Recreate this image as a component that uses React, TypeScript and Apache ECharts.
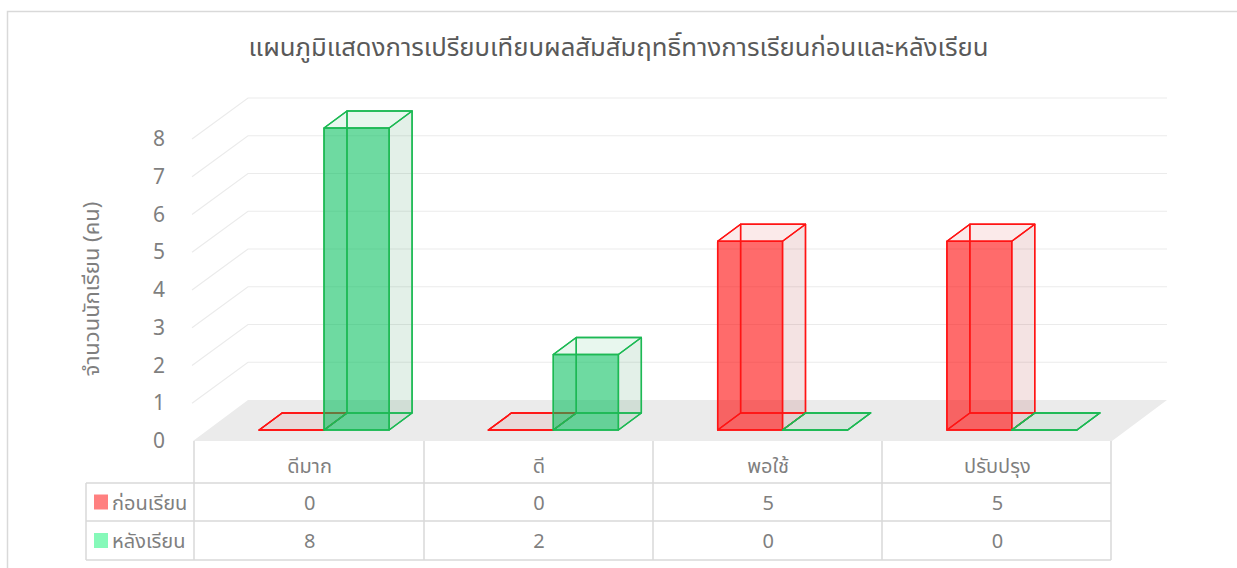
import React, { useEffect, useRef } from "react";
import * as echarts from "echarts";

const TITLE = "แผนภูมิแสดงการเปรียบเทียบผลสัมสัมฤทธิ์ทางการเรียนก่อนและหลังเรียน";
const Y_NAME = "จำนวนนักเรียน (คน)";
const categories = ["ดีมาก", "ดี", "พอใช้", "ปรับปรุง"];
const seriesNames = ["ก่อนเรียน", "หลังเรียน"];
const beforeValues = [0, 0, 5, 5];
const afterValues = [8, 2, 0, 0];
const gridTicks = [1, 2, 3, 4, 5, 6, 7, 8];

const FONT = "'Noto Sans', 'Noto Sans Thai', 'Leelawadee UI', Tahoma, sans-serif";
const W = 1237;
const H = 568;
const DX = 54;
const DY = -40;
const D1 = 0.25;
const D2 = 0.675;
const SLOT = [
  [-0.279, 0.004],
  [0.004, 0.288],
];
const STYLES = [
  { front: "rgba(255,0,0,0.58)", side: "rgba(180,60,60,0.14)", top: "rgba(220,60,60,0.11)", stroke: "#ff1414", key: "#ff8080" },
  { front: "rgba(0,190,90,0.57)", side: "rgba(40,140,80,0.13)", top: "rgba(30,180,90,0.10)", stroke: "#1db954", key: "#86f9b9" },
];

const GRID_L = 195;
const GRID_R = 1112;
const GRID_TOP = 138;
const GRID_BOTTOM = 440;
const COL_X = [194, 424, 653, 882, 1111];
const TABLE_LEFT = 86;
const ROW_Y = [441, 483, 521, 560];
const LINE_C = "#d9d9d9";
const TEXT_C = "#7f7f7f";
const TABLE_FS = 20;

function makeBarRender(slot: number) {
  const st = STYLES[slot];
  return (params: any, api: any) => {
    const cat = api.value(0);
    const val = api.value(1);
    const p0 = api.coord([cat, 0]);
    const pv = api.coord([cat, val]);
    const bw = api.size([1, 0])[0];
    const cx = p0[0];
    const y0 = p0[1];
    const yv = pv[1];
    const xl = cx + bw * SLOT[slot][0];
    const xr = cx + bw * SLOT[slot][1];
    const f = (x: number, y: number, d: number) => [x + DX * d, y + DY * d];
    const FBL = f(xl, y0, D1), FBR = f(xr, y0, D1), FTL = f(xl, yv, D1), FTR = f(xr, yv, D1);
    const BBL = f(xl, y0, D2), BBR = f(xr, y0, D2), BTL = f(xl, yv, D2), BTR = f(xr, yv, D2);
    const fill = (pts: number[][], c: string) => ({ type: "polygon", shape: { points: pts }, style: { fill: c } });
    const line = (pts: number[][]) => ({
      type: "polygon",
      shape: { points: pts },
      style: { fill: "none", stroke: st.stroke, lineWidth: 1.4, lineJoin: "round" },
    });
    return {
      type: "group",
      children: [
        fill([FBR, BBR, BTR, FTR], st.side),
        fill([FTL, FTR, BTR, BTL], st.top),
        fill([FBL, FBR, FTR, FTL], st.front),
        line([BBL, BBR, BTR, BTL]),
        line([FBL, BBL, BTL, FTL]),
        line([FBL, FBR, BBR, BBL]),
        line([FBR, BBR, BTR, FTR]),
        line([FTL, FTR, BTR, BTL]),
        line([FBL, FBR, FTR, FTL]),
      ],
    };
  };
}

function makeTableRender(rowY: number) {
  return (params: any, api: any) => {
    const cat = api.value(0);
    const p = api.coord([cat, 0]);
    return {
      type: "text",
      x: p[0],
      y: rowY,
      style: {
        text: String(api.value(1)),
        align: "center",
        verticalAlign: "middle",
        fill: TEXT_C,
        fontSize: TABLE_FS,
        fontFamily: FONT,
      },
    };
  };
}

export default function App() {
  const ref = useRef<HTMLDivElement>(null);
  useEffect(() => {
    if (!ref.current) return;
    const chart = echarts.init(ref.current, undefined, { renderer: "svg" });

    const graphics: any[] = [];
    graphics.push({
      type: "rect",
      shape: { x: 7.5, y: 11.5, width: W, height: H },
      style: { fill: "none", stroke: LINE_C, lineWidth: 1.5 },
      silent: true,
    });
    COL_X.forEach((x) => {
      graphics.push({
        type: "line",
        shape: { x1: x, y1: ROW_Y[0], x2: x, y2: ROW_Y[3] },
        style: { stroke: LINE_C, lineWidth: 1.5 },
      });
    });
    graphics.push({
      type: "line",
      shape: { x1: TABLE_LEFT, y1: ROW_Y[1], x2: TABLE_LEFT, y2: ROW_Y[3] },
      style: { stroke: LINE_C, lineWidth: 1.5 },
    });
    [1, 2, 3].forEach((r) => {
      graphics.push({
        type: "line",
        shape: { x1: TABLE_LEFT, y1: ROW_Y[r], x2: COL_X[4], y2: ROW_Y[r] },
        style: { stroke: LINE_C, lineWidth: 1.5 },
      });
    });
    seriesNames.forEach((name, i) => {
      const cy = (ROW_Y[i + 1] + ROW_Y[i + 2]) / 2;
      graphics.push({
        type: "rect",
        shape: { x: 94, y: cy - 7.5, width: 14, height: 15 },
        style: { fill: STYLES[i].key },
      });
      graphics.push({
        type: "text",
        x: 112,
        y: cy,
        style: { text: name, fill: TEXT_C, fontSize: TABLE_FS, fontFamily: FONT, verticalAlign: "middle", align: "left" },
      });
    });

    chart.setOption({
      animation: false,
      backgroundColor: "#ffffff",
      title: {
        text: TITLE,
        left: "center",
        top: 28,
        textStyle: { color: "#595959", fontSize: 25.7, fontWeight: "normal", fontFamily: FONT },
      },
      grid: {
        left: GRID_L,
        right: W - GRID_R,
        top: GRID_TOP,
        bottom: H - GRID_BOTTOM,
      },
      xAxis: {
        type: "category",
        data: categories,
        axisLine: { show: false },
        axisTick: { show: false },
        axisLabel: { color: TEXT_C, fontSize: TABLE_FS, fontFamily: FONT, margin: 15 },
        splitLine: { show: false },
      },
      yAxis: {
        type: "value",
        min: 0,
        max: 8,
        interval: 1,
        name: Y_NAME,
        nameLocation: "middle",
        nameRotate: 90,
        nameGap: 94,
        nameTextStyle: { color: TEXT_C, fontSize: 22, fontFamily: FONT },
        axisLine: { show: false },
        axisTick: { show: false },
        splitLine: { show: false },
        axisLabel: { color: TEXT_C, fontSize: 21, fontFamily: FONT, margin: 30 },
      },
      graphic: graphics,
      series: [
        {
          type: "custom",
          name: "floor",
          silent: true,
          data: [[0, 0]],
          renderItem: (params: any, api: any) => {
            const cs = params.coordSys;
            const y0 = api.coord([0, 0])[1];
            const x0 = cs.x;
            const x1 = cs.x + cs.width;
            return {
              type: "polygon",
              shape: { points: [[x0 - 2, y0 + 1], [x1, y0 + 1], [x1 + DX + 1, y0 + DY], [x0 + DX - 1, y0 + DY]] },
              style: { fill: "#ebebeb" },
            };
          },
        },
        {
          type: "custom",
          name: "wall",
          silent: true,
          data: gridTicks.map((v) => [0, v]),
          renderItem: (params: any, api: any) => {
            const cs = params.coordSys;
            const y = api.coord([0, api.value(1)])[1];
            const x0 = cs.x;
            const x1 = cs.x + cs.width;
            return {
              type: "polyline",
              shape: { points: [[x0 - 3, y + 1], [x0 + DX - 1, y + DY], [x1 + DX + 1, y + DY]] },
              style: { fill: "none", stroke: "#ebebeb", lineWidth: 1.2 },
            };
          },
        },
        {
          type: "custom",
          name: seriesNames[0],
          data: beforeValues.map((v, i) => [i, v]),
          renderItem: makeBarRender(0),
        },
        {
          type: "custom",
          name: seriesNames[1],
          data: afterValues.map((v, i) => [i, v]),
          renderItem: makeBarRender(1),
        },
        {
          type: "custom",
          name: "table-" + seriesNames[0],
          data: beforeValues.map((v, i) => [i, v]),
          renderItem: makeTableRender((ROW_Y[1] + ROW_Y[2]) / 2),
        },
        {
          type: "custom",
          name: "table-" + seriesNames[1],
          data: afterValues.map((v, i) => [i, v]),
          renderItem: makeTableRender((ROW_Y[2] + ROW_Y[3]) / 2),
        },
      ],
    });
    return () => chart.dispose();
  }, []);

  return (
    <div
      ref={ref}
      style={{ position: "fixed", left: 0, top: 0, width: W, height: H, background: "#fff" }}
    />
  );
}
